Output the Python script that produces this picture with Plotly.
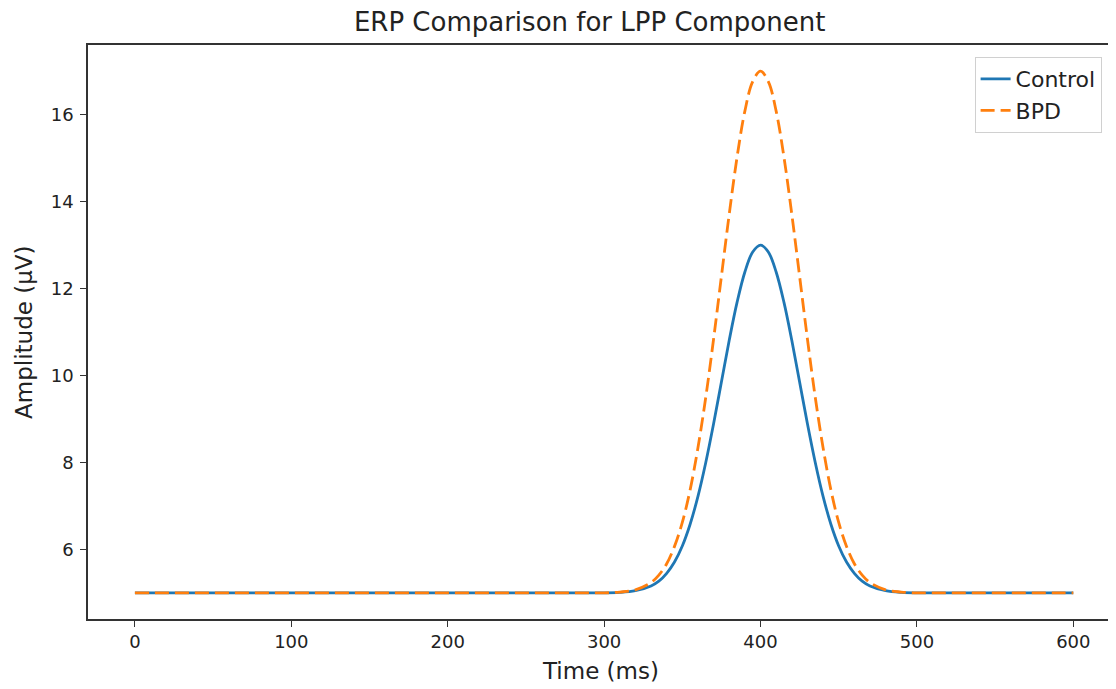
import plotly.graph_objects as go

# ---- data ----
time_ms = [0, 10, 20, 30, 40, 50, 60, 70, 80, 90,
           100, 110, 120, 130, 140, 150, 160, 170, 180, 190,
           200, 210, 220, 230, 240, 250, 260, 270, 280, 290,
           300, 310, 320,
           330, 335, 340, 345, 350, 355, 360, 365, 370, 375,
           380, 385, 390, 395, 400, 405, 410, 415, 420, 425,
           430, 435, 440, 445, 450, 455, 460, 465, 470,
           480, 490, 500, 510, 520, 530, 540, 550, 560, 570,
           580, 590, 600]

control_uv = [5.00, 5.00, 5.00, 5.00, 5.00, 5.00, 5.00, 5.00, 5.00, 5.00,
              5.00, 5.00, 5.00, 5.00, 5.00, 5.00, 5.00, 5.00, 5.00, 5.00,
              5.00, 5.00, 5.00, 5.00, 5.00, 5.00, 5.00, 5.00, 5.00, 5.00,
              5.00, 5.01, 5.05,
              5.16, 5.27, 5.45, 5.71, 6.08, 6.58, 7.22, 8.00, 8.89, 9.85,
              10.81, 11.68, 12.38, 12.84, 13.00, 12.84, 12.38, 11.68, 10.81, 9.85,
              8.89, 8.00, 7.22, 6.58, 6.08, 5.71, 5.45, 5.27, 5.16,
              5.05, 5.01, 5.00, 5.00, 5.00, 5.00, 5.00, 5.00, 5.00, 5.00,
              5.00, 5.00, 5.00]

bpd_uv = [5.00, 5.00, 5.00, 5.00, 5.00, 5.00, 5.00, 5.00, 5.00, 5.00,
          5.00, 5.00, 5.00, 5.00, 5.00, 5.00, 5.00, 5.00, 5.00, 5.00,
          5.00, 5.00, 5.00, 5.00, 5.00, 5.00, 5.00, 5.00, 5.00, 5.00,
          5.00, 5.02, 5.07,
          5.24, 5.41, 5.67, 6.07, 6.62, 7.37, 8.34, 9.50, 10.84, 12.28,
          13.71, 15.02, 16.08, 16.76, 17.00, 16.76, 16.08, 15.02, 13.71, 12.28,
          10.84, 9.50, 8.34, 7.37, 6.62, 6.07, 5.67, 5.41, 5.24,
          5.07, 5.02, 5.00, 5.00, 5.00, 5.00, 5.00, 5.00, 5.00, 5.00,
          5.00, 5.00, 5.00]

x_ticks = [0, 100, 200, 300, 400, 500, 600]
y_ticks = [6, 8, 10, 12, 14, 16]

series_names = ["Control", "BPD"]
title_text = "ERP Comparison for LPP Component"
x_label = "Time (ms)"
y_label = "Amplitude (μV)"

FONT = "DejaVu Sans"

fig = go.Figure()
fig.add_trace(go.Scatter(
    x=time_ms, y=control_uv, mode="lines", name=series_names[0],
    line=dict(color="#1f77b4", width=2.8, shape="spline", smoothing=1.0),
))
fig.add_trace(go.Scatter(
    x=time_ms, y=bpd_uv, mode="lines", name=series_names[1],
    line=dict(color="#ff7f0e", width=2.8, dash="14px,6px", shape="spline", smoothing=1.0),
))

axis_common = dict(
    showgrid=False, zeroline=False, showline=True,
    linecolor="#333333", linewidth=1.5,
    ticks="outside", ticklen=6, tickwidth=1.3, tickcolor="#333333",
    tickfont=dict(family=FONT, size=18, color="#222222"),
)

fig.update_xaxes(range=[-30, 627.3], tickvals=x_ticks, mirror=True, **axis_common)
fig.update_yaxes(range=[4.4, 17.6], tickvals=y_ticks, mirror=False,
                 ticklabelstandoff=3, **axis_common)

# page body has an 8px margin: figure is 1108x681 so that the page is 1116x689
fig.update_layout(
    width=1108, height=681,
    margin=dict(l=80, r=0, t=37, b=70),
    paper_bgcolor="white", plot_bgcolor="white",
    font=dict(family=FONT, color="#222222"),
    title=dict(text=title_text, font=dict(family=FONT, size=26, color="#222222"),
               x=0.488, xref="paper", xanchor="center",
               y=1 - 14 / 681, yref="container", yanchor="middle"),
    legend=dict(x=0.986, y=0.979, xanchor="right", yanchor="top",
                bgcolor="white", bordercolor="#d0d0d0", borderwidth=1,
                font=dict(family=FONT, size=22, color="#222222")),
    annotations=[
        dict(text=x_label, x=0.4985, y=-0.0906, xref="paper", yref="paper",
             xanchor="center", yanchor="middle", showarrow=False,
             font=dict(family=FONT, size=23, color="#222222")),
        dict(text=y_label, x=-0.0623, y=0.5, xref="paper", yref="paper",
             xanchor="center", yanchor="middle", showarrow=False, textangle=-90,
             font=dict(family=FONT, size=23, color="#222222")),
    ],
)

fig.write_html("out.html")
